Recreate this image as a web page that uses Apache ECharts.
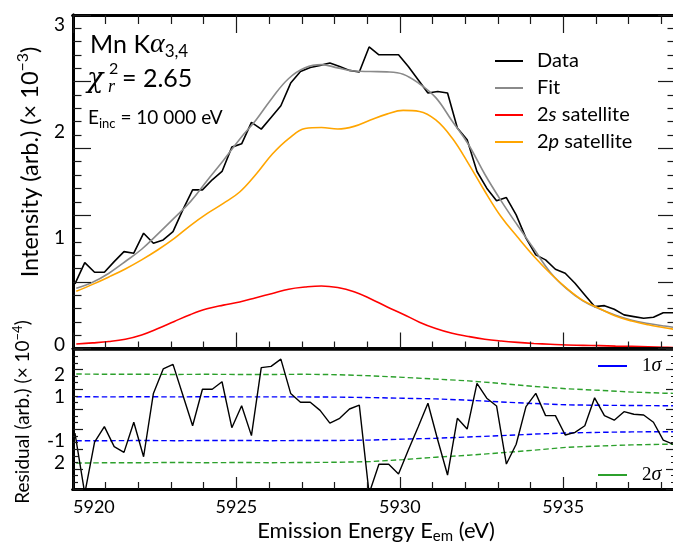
<!DOCTYPE html>
<html>
<head>
<meta charset="utf-8">
<script src="https://cdn.jsdelivr.net/npm/echarts@6/dist/echarts.min.js"></script>
<style>
  html, body { margin: 0; padding: 0; background: #ffffff; }
  #wrap { position: relative; width: 673px; height: 543px; }
  .layer { position: absolute; left: 0; top: 0; width: 673px; height: 543px; }
  .frame { pointer-events: none; z-index: 2; }
</style>
</head>
<body>
<div id="wrap">
  <div id="chart" class="layer"></div>
  <div id="frameUpper" class="layer frame"></div>
  <div id="frameResidual" class="layer frame"></div>
</div>
<script>
// Mn Kα3,4 emission spectrum at Einc = 10 000 eV: measured data, total fit,
// 2s / 2p satellite components, and the residual with 1σ / 2σ bands.

// ---- measured spectrum (emission energy in eV, intensity ×10^-3) ----
const energy = [
  5920.06, 5920.36, 5920.66, 5920.96, 5921.26, 5921.56, 5921.86, 5922.16, 5922.46, 5922.76,
  5923.06, 5923.36, 5923.66, 5923.96, 5924.26, 5924.56, 5924.86, 5925.16, 5925.46, 5925.76,
  5926.06, 5926.36, 5926.66, 5926.96, 5927.26, 5927.56, 5927.86, 5928.16, 5928.46, 5928.76,
  5929.06, 5929.36, 5929.66, 5929.96, 5930.26, 5930.56, 5930.86, 5931.16, 5931.46, 5931.76,
  5932.06, 5932.36, 5932.66, 5932.96, 5933.26, 5933.56, 5933.86, 5934.16, 5934.46, 5934.76,
  5935.06, 5935.36, 5935.66, 5935.96, 5936.26, 5936.56, 5936.86, 5937.16, 5937.46, 5937.76,
  5938.06, 5938.36
];
const intensity = [
  0.602, 0.803, 0.712, 0.712, 0.812, 0.906, 0.891, 1.079, 0.985, 1.016,
  1.094, 1.298, 1.486, 1.486, 1.581, 1.659, 1.888, 1.919, 2.120, 2.057,
  2.167, 2.277, 2.490, 2.599, 2.637, 2.656, 2.678, 2.646, 2.609, 2.594,
  2.829, 2.756, 2.756, 2.756, 2.646, 2.521, 2.396, 2.411, 2.396, 2.067,
  1.957, 1.659, 1.502, 1.383, 1.414, 1.251, 1.033, 0.875, 0.828, 0.740,
  0.703, 0.609, 0.499, 0.389, 0.398, 0.364, 0.311, 0.295, 0.279, 0.289,
  0.332, 0.332
];
// residual (×10^-4), same energies as the data
const residual = [
  -0.66, -3.40, -1.07, -0.36, -1.27, -1.53, -0.16, -1.73, 1.15, 2.26,
  2.47, 1.08, -0.32, 1.34, 1.34, 1.68, -0.41, 0.59, -0.77, 2.32,
  2.38, 2.71, 1.15, 0.75, 0.75, 0.38, -0.20, 0.02, 0.44, 0.62,
  -3.40, -2.07, -2.07, -2.51, -1.42, -0.38, 0.70, -0.97, -2.56, 0.02,
  -0.47, 1.61, 0.93, 0.58, -2.06, -1.16, 0.55, 1.15, 0.14, 0.14,
  -0.74, -0.62, -0.32, 0.95, 0.14, -0.07, 0.32, 0.20, 0.17, -0.16,
  -0.97, -1.16
];

// ---- model curves ----
const modelEnergy = [
  5920.1, 5920.6, 5921.1, 5921.6, 5922.1, 5922.6, 5923.1, 5923.6, 5924.1, 5924.6,
  5925.1, 5925.6, 5926.1, 5926.6, 5927.1, 5927.6, 5928.1, 5928.6, 5929.1, 5929.6,
  5930.1, 5930.6, 5931.1, 5931.6, 5932.1, 5932.6, 5933.1, 5933.6, 5934.1, 5934.6,
  5935.1, 5935.6, 5936.1, 5936.6, 5937.1, 5937.6, 5938.1, 5938.4
];
const fitCurve = [
  0.562, 0.618, 0.703, 0.813, 0.928, 1.073, 1.223, 1.378, 1.573, 1.763,
  1.963, 2.143, 2.353, 2.533, 2.633, 2.663, 2.633, 2.603, 2.598, 2.595,
  2.573, 2.483, 2.353, 2.133, 1.913, 1.633, 1.383, 1.153, 0.933, 0.713,
  0.558, 0.443, 0.368, 0.308, 0.261, 0.231, 0.206, 0.193
];
const satellite2s = [
  0.038, 0.048, 0.061, 0.083, 0.123, 0.183, 0.250, 0.315, 0.368, 0.403,
  0.433, 0.473, 0.513, 0.553, 0.573, 0.583, 0.568, 0.528, 0.463, 0.388,
  0.318, 0.243, 0.183, 0.138, 0.108, 0.083, 0.066, 0.053, 0.043, 0.035,
  0.028, 0.025, 0.022, 0.018, 0.015, 0.011, 0.007, 0.005
];
const satellite2p = [
  0.533, 0.598, 0.668, 0.743, 0.828, 0.923, 1.030, 1.153, 1.263, 1.359,
  1.466, 1.633, 1.823, 1.968, 2.063, 2.073, 2.058, 2.083, 2.143, 2.198,
  2.233, 2.223, 2.143, 1.973, 1.733, 1.473, 1.233, 1.043, 0.863, 0.703,
  0.563, 0.448, 0.373, 0.301, 0.253, 0.218, 0.191, 0.175
];

// ---- uncertainty bands for the residual ----
const sigmaEnergy = [
  5920.1, 5921.1, 5922.1, 5923.1, 5924.1, 5925.1, 5926.1, 5927.1, 5928.1, 5929.1,
  5930.1, 5931.1, 5932.1, 5933.1, 5934.1, 5935.1, 5936.1, 5937.1, 5938.1, 5938.4
];
const sigma1Upper = [1.00, 0.99, 1.00, 0.99, 1.00, 0.99, 0.99, 0.99, 0.98, 0.96, 0.93, 0.90, 0.84, 0.76, 0.69, 0.63, 0.61, 0.60, 0.59, 0.59];
const sigma1Lower = [-1.00, -1.00, -0.99, -1.00, -0.99, -0.99, -1.00, -0.99, -0.99, -0.97, -0.93, -0.89, -0.83, -0.77, -0.70, -0.65, -0.62, -0.60, -0.59, -0.59];
const sigma2Upper = [2.03, 2.02, 2.02, 2.01, 2.02, 2.01, 2.01, 2.02, 2.00, 1.95, 1.88, 1.80, 1.72, 1.60, 1.47, 1.36, 1.29, 1.21, 1.16, 1.15];
const sigma2Lower = [-2.02, -2.00, -2.00, -1.99, -2.00, -1.99, -2.00, -1.99, -1.98, -1.95, -1.86, -1.75, -1.66, -1.55, -1.43, -1.30, -1.24, -1.19, -1.16, -1.16];

// ---- ticks and labels ----
const xMajorTicks = [5920, 5925, 5930, 5935];
const xMinorTicks = [5921, 5922, 5923, 5924, 5926, 5927, 5928, 5929, 5931, 5932, 5933, 5934, 5936, 5937, 5938];
const intensityTicks = [0, 1, 2, 3];
const intensityTickLabels = ['0', '1', '2', '3'];
const residualTicks = [2, 1, -1, -2];
const residualTickLabels = ['2', '1', '-1', '2'];

// ---------------------------------------------------------------
const SANS = 'Lato';
const SERIF = 'Liberation Serif';
const MATH = 'DejaVu Serif';
const INK = '#000000';
const TICK = '#1a1a1a';
const X_MIN = 5920, X_MAX = 5938.45;
const Y_MIN = -0.0047, Y_MAX = 3.1297;
const R_MIN = -3.195, R_MAX = 3.145;
const UPPER_GRID = { left: 73, top: 15, width: 603, height: 333.5 };
const RESID_GRID = { left: 73, top: 349.5, width: 603, height: 139.5 };

const pairs = (xs, ys) => xs.map((x, i) => [x, ys[i]]);
const lookup = (values, labels) => (v) => {
  const i = values.findIndex(t => Math.abs(t - v) < 1e-6);
  return i < 0 ? '' : labels[i];
};

const spine = (width) => ({ show: true, onZero: false, lineStyle: { color: INK, width } });
const bare = { axisTick: { show: false }, minorTick: { show: false }, splitLine: { show: false }, minorSplitLine: { show: false } };

function xAxisDef(gridIndex, position, lineWidth, label) {
  return Object.assign({
    type: 'value', gridIndex, position, min: X_MIN, max: X_MAX,
    axisLine: spine(lineWidth), axisLabel: label || { show: false }
  }, bare);
}
function yAxisDef(gridIndex, position, min, max, label) {
  return Object.assign({
    type: 'value', gridIndex, position, min, max,
    axisLine: spine(3), axisLabel: label || { show: false }
  }, bare);
}

const legendRich = {
  p: { fontFamily: SANS, fontSize: 20, color: INK, lineHeight: 22, padding: [0, 0, 0, 9] },
  n: { fontFamily: SANS, fontSize: 20, color: INK, lineHeight: 22 },
  it: { fontFamily: SANS, fontSize: 20, color: INK, lineHeight: 22, fontStyle: 'italic' },
  sn: { fontFamily: SERIF, fontSize: 19, color: INK, lineHeight: 22, padding: [0, 0, 0, 10] },
  si: { fontFamily: SERIF, fontSize: 20, color: INK, lineHeight: 22, fontStyle: 'italic' }
};
const legendText = {
  'Data': '{p|Data}',
  'Fit': '{p|Fit}',
  '2s satellite': '{p|2}{it|s}{n| satellite}',
  '2p satellite': '{p|2}{it|p}{n| satellite}',
  '1σ': '{sn|1}{si|σ}',
  '2σ': '{sn|2}{si|σ}'
};
function legendDef(names, left, top, width, gap) {
  return {
    data: names, orient: 'vertical', left, top, itemWidth: width, itemHeight: 2,
    icon: 'rect', itemGap: gap, selectedMode: false, padding: 0,
    formatter: (name) => legendText[name],
    textStyle: { fontFamily: SANS, fontSize: 20, color: INK, rich: legendRich }
  };
}

function lineSeries(name, data, color, width, xi, yi, extra) {
  return Object.assign({
    type: 'line', name, data, xAxisIndex: xi, yAxisIndex: yi,
    symbol: 'none', showSymbol: false, clip: true, silent: true,
    lineStyle: { color, width }, itemStyle: { color }, emphasis: { disabled: true }
  }, extra || {});
}
const dashed = (color) => ({ lineStyle: { color, width: 1.4, type: [5.5, 3] } });

const graphicTexts = [
  {
    type: 'text', x: 90, y: 45, silent: true,
    style: {
      text: 'Mn K{al|α}{sub|3,4}', fill: INK, fontFamily: SANS, fontSize: 25, lineHeight: 30,
      align: 'left', verticalAlign: 'middle',
      rich: {
        al: { fill: INK, fontFamily: SERIF, fontStyle: 'italic', fontSize: 28, lineHeight: 30, verticalAlign: 'middle' },
        sub: { fill: INK, fontFamily: SANS, fontSize: 17, lineHeight: 12, verticalAlign: 'bottom' }
      }
    }
  },
  { type: 'text', x: 87, y: 80, silent: true,
    style: { text: 'χ', fill: INK, fontFamily: MATH, fontStyle: 'italic', fontSize: 27, align: 'left', verticalAlign: 'middle' } },
  { type: 'text', x: 109, y: 69, silent: true,
    style: { text: '2', fill: INK, fontFamily: SANS, fontSize: 16, align: 'left', verticalAlign: 'middle' } },
  { type: 'text', x: 108, y: 87, silent: true,
    style: { text: 'r', fill: INK, fontFamily: SERIF, fontStyle: 'italic', fontSize: 18, align: 'left', verticalAlign: 'middle' } },
  { type: 'text', x: 122, y: 79, silent: true,
    style: { text: '= 2.65', fill: INK, fontFamily: SANS, fontSize: 25, align: 'left', verticalAlign: 'middle' } },
  {
    type: 'text', x: 88, y: 118, silent: true,
    style: {
      text: 'E{sub|inc} = 10 000 eV', fill: INK, fontFamily: SANS, fontSize: 19, lineHeight: 24,
      align: 'left', verticalAlign: 'middle',
      rich: { sub: { fill: INK, fontFamily: SANS, fontSize: 13, lineHeight: 10, verticalAlign: 'bottom' } }
    }
  },
  {
    type: 'text', x: 30, y: 162, rotation: Math.PI / 2, silent: true,
    style: {
      text: 'Intensity (arb.) (× 10{sup|−3})', fill: INK, fontFamily: SANS, fontSize: 23.5, lineHeight: 30,
      align: 'center', verticalAlign: 'middle',
      rich: { sup: { fill: INK, fontFamily: SANS, fontSize: 16, lineHeight: 15, verticalAlign: 'top' } }
    }
  },
  {
    type: 'text', x: 23, y: 412, rotation: Math.PI / 2, silent: true,
    style: {
      text: 'Residual (arb.) (× 10{sup|−4})', fill: INK, fontFamily: SANS, fontSize: 19, lineHeight: 24,
      align: 'center', verticalAlign: 'middle',
      rich: { sup: { fill: INK, fontFamily: SANS, fontSize: 13, lineHeight: 12, verticalAlign: 'top' } }
    }
  },
  {
    type: 'text', x: 376, y: 531, silent: true,
    style: {
      text: 'Emission Energy E{sub|em} (eV)', fill: INK, fontFamily: SANS, fontSize: 22, lineHeight: 26,
      align: 'center', verticalAlign: 'middle',
      rich: { sub: { fill: INK, fontFamily: SANS, fontSize: 15, lineHeight: 12, verticalAlign: 'bottom' } }
    }
  }
];

// ---- main plot: curves, labels, legends, frame lines ----
const chart = echarts.init(document.getElementById('chart'), null, { renderer: 'canvas' });
try {
  chart.setOption({
    animation: false,
    backgroundColor: '#ffffff',
    textStyle: { fontFamily: SANS, color: INK },
    grid: [
      Object.assign({ outerBoundsMode: 'none' }, UPPER_GRID),
      Object.assign({ outerBoundsMode: 'none' }, RESID_GRID)
    ],
    xAxis: [
      xAxisDef(0, 'bottom', 2.5),
      xAxisDef(0, 'top', 3),
      xAxisDef(1, 'bottom', 3, {
        show: true, customValues: xMajorTicks, margin: 9, alignMinLabel: 'left',
        fontFamily: SANS, fontSize: 18, color: INK, formatter: (v) => String(v)
      }),
      xAxisDef(1, 'top', 2.5)
    ],
    yAxis: [
      yAxisDef(0, 'left', Y_MIN, Y_MAX, {
        show: true, customValues: intensityTicks, formatter: lookup(intensityTicks, intensityTickLabels),
        margin: 8, verticalAlign: 'bottom', lineHeight: 7, fontFamily: SANS, fontSize: 19, color: INK
      }),
      yAxisDef(0, 'right', Y_MIN, Y_MAX),
      yAxisDef(1, 'left', R_MIN, R_MAX, {
        show: true, customValues: residualTicks, formatter: lookup(residualTicks, residualTickLabels),
        margin: 8, fontFamily: SANS, fontSize: 19, color: INK
      }),
      yAxisDef(1, 'right', R_MIN, R_MAX)
    ],
    legend: [
      legendDef(['Data', 'Fit', '2s satellite', '2p satellite'], 495, 51, 28, 7),
      legendDef(['1σ'], 598, 356, 29, 0),
      legendDef(['2σ'], 598, 465, 29, 0)
    ],
    series: [
      lineSeries('Data', pairs(energy, intensity), '#000000', 1.6, 0, 0),
      lineSeries('Fit', pairs(modelEnergy, fitCurve), '#8a8a8a', 1.6, 0, 0, { smooth: 0.4 }),
      lineSeries('2s satellite', pairs(modelEnergy, satellite2s), '#ff0000', 1.6, 0, 0, { smooth: 0.4 }),
      lineSeries('2p satellite', pairs(modelEnergy, satellite2p), '#ffa500', 1.6, 0, 0, { smooth: 0.4 }),
      lineSeries('1σ', pairs(sigmaEnergy, sigma1Upper), '#0000ff', 1.4, 2, 2, dashed('#0000ff')),
      lineSeries('1σ', pairs(sigmaEnergy, sigma1Lower), '#0000ff', 1.4, 2, 2, dashed('#0000ff')),
      lineSeries('2σ', pairs(sigmaEnergy, sigma2Upper), '#2ca02c', 1.4, 2, 2, dashed('#2ca02c')),
      lineSeries('2σ', pairs(sigmaEnergy, sigma2Lower), '#2ca02c', 1.4, 2, 2, dashed('#2ca02c')),
      lineSeries('Residual', pairs(energy, residual), '#000000', 1.4, 2, 2)
    ],
    graphic: graphicTexts
  });
} catch (e) {
  // keep going so the frame layers still draw
}

// ---- frame ticks: a transparent layer per panel, inward ticks on all four edges ----
function frameOption(rect, steps, every, yMajorLen, yMinorLen, bottomLens, topLens) {
  const tickStyle = { color: TICK, width: 1.2 };
  const xTicks = (position, values, length, lineWidth) => ({
    type: 'value', position, min: X_MIN, max: X_MAX,
    axisLine: { show: true, onZero: false, lineStyle: { color: INK, width: lineWidth } },
    axisTick: { show: true, inside: true, length, customValues: values, lineStyle: tickStyle },
    axisLabel: { show: true, formatter: () => '' },
    splitLine: { show: false }
  });
  const yTicks = (position) => ({
    type: 'value', position, min: 0, max: steps, interval: every,
    axisLine: { show: true, onZero: false, lineStyle: { color: INK, width: 3 } },
    axisTick: { show: true, inside: true, length: yMajorLen, lineStyle: tickStyle },
    minorTick: { show: true, splitNumber: every, length: yMinorLen, lineStyle: tickStyle },
    axisLabel: { show: true, formatter: () => '' },
    splitLine: { show: false }
  });
  const xAxis = [
    xTicks('bottom', xMajorTicks, bottomLens[0], bottomLens[2]),
    xTicks('bottom', xMinorTicks, bottomLens[1], bottomLens[2])
  ];
  if (topLens) {
    xAxis.push(xTicks('top', xMajorTicks, topLens[0], topLens[2]));
    xAxis.push(xTicks('top', xMinorTicks, topLens[1], topLens[2]));
  }
  return {
    animation: false,
    backgroundColor: 'transparent',
    grid: Object.assign({ outerBoundsMode: 'none' }, rect),
    xAxis,
    yAxis: [yTicks('left'), yTicks('right')],
    series: [{ type: 'line', data: [], xAxisIndex: 0, yAxisIndex: 0, silent: true }]
  };
}

echarts.init(document.getElementById('frameUpper')).setOption(
  frameOption(UPPER_GRID, 25, 5, 18, 8.5, [16, 7, 2.5], [18, 9, 3])
);
echarts.init(document.getElementById('frameResidual')).setOption(
  frameOption(RESID_GRID, 21, 3, 10, 5, [12, 7, 3], null)
);
</script>
</body>
</html>
